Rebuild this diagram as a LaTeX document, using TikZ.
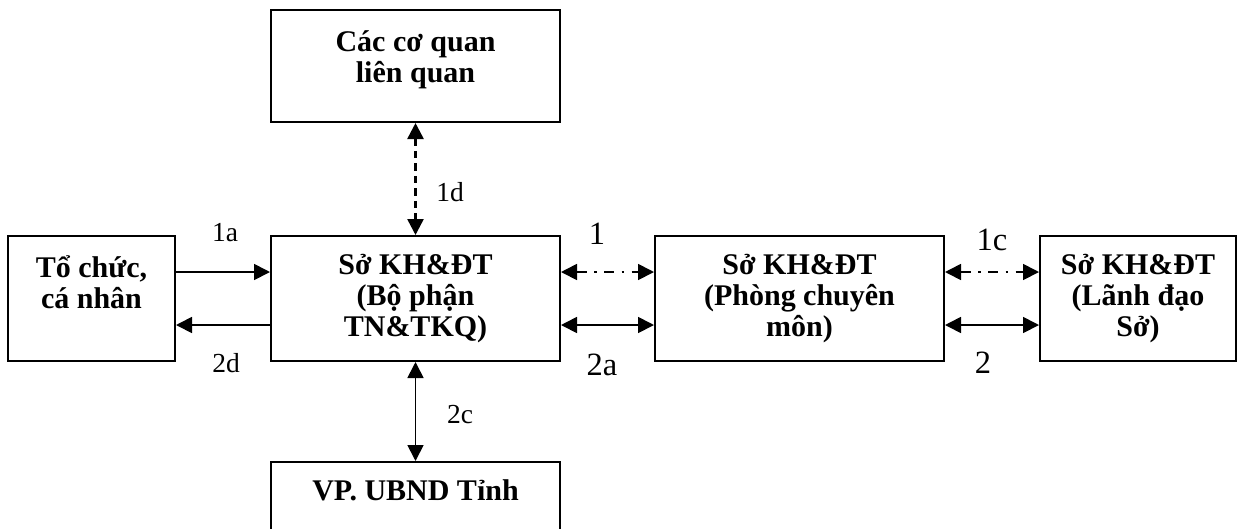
\documentclass[tikz,border=0pt]{standalone}
\usepackage{fontspec}
\setmainfont{Liberation Serif}
\usetikzlibrary{arrows.meta, positioning}
\newcommand{\firstln}{\rule{0pt}{12pt}}

\begin{document}
\begin{tikzpicture}[x=0.4pt, y=-0.4pt,
  box/.style={draw, line width=0.8pt, minimum height=50pt},
  boxtxt/.style={anchor=north, align=center, inner sep=0pt, yshift=-3.6pt,
    font=\fontsize{12}{12.4}\selectfont\bfseries},
  lab/.style={font=\fontsize{11}{13}\selectfont},
  biglab/.style={font=\fontsize{13}{15}\selectfont},
  arr/.style={line width=0.7pt, -{Triangle[length=6.4pt,width=6.4pt]}},
  dbl/.style={line width=0.7pt, {Triangle[length=6.4pt,width=6.4pt]}-{Triangle[length=6.4pt,width=6.4pt]}},
  dashdot/.style={dash pattern=on 4pt off 3pt on 1pt off 3pt}]
\useasboundingbox (0,0) rectangle (1238,528);
\clip (0,0) rectangle (1238,528);
% boxes
\node[box, minimum width=115.6pt, minimum height=44.8pt] (cq) at (415.5,66) {};
\node[box, minimum width=115.6pt] (bp) at (415.5,298.5) {};
\node[box, minimum width=66.8pt] (tc) at (91.5,298.5) {};
\node[box, minimum width=115.6pt] (pcm) at (799.5,298.5) {};
\node[box, minimum width=78.4pt] (ld) at (1138,298.5) {};
\node[box, minimum width=115.6pt] (vp) at (415.5,524.5) {};
% box texts
\node[boxtxt, yshift=-1.2pt] (tcq) at (cq.north) {\firstln Các cơ quan\\liên quan};
\node[boxtxt] (tbp) at (bp.north) {\firstln Sở KH\&ĐT\\(Bộ phận\\TN\&TKQ)};
\node[boxtxt, yshift=-1.2pt] (ttc) at (tc.north) {\firstln Tổ chức,\\cá nhân};
\node[boxtxt] (tpcm) at (pcm.north) {\firstln Sở KH\&ĐT\\(Phòng chuyên\\môn)};
\node[boxtxt] (tld) at (ld.north) {\firstln Sở KH\&ĐT\\(Lãnh đạo\\Sở)};
\node[boxtxt] (tvp) at (vp.north) {\firstln VP. UBND Tỉnh};
% connectors
\coordinate (up) at (0,272);
\coordinate (lo) at (0,325);
\draw[arr] (tc.east |- up) -- (bp.west |- up);
\draw[arr] (bp.west |- lo) -- (tc.east |- lo);
\draw[dbl, dashdot] (bp.east |- up) -- (pcm.west |- up);
\draw[dbl] (bp.east |- lo) -- (pcm.west |- lo);
\draw[dbl, dashdot] (pcm.east |- up) -- (ld.west |- up);
\draw[dbl] (pcm.east |- lo) -- (ld.west |- lo);
\draw[dbl, line width=1pt, dash pattern=on 3pt off 2pt] (cq.south) -- (bp.north);
\draw[dbl] (bp.south) -- (vp.north);
% labels
\node[lab] (l1a) at (225,233) {1a};
\node[lab] (l2d) at (226,363) {2d};
\node[biglab] (l1) at (597,234) {1};
\node[biglab] (l2a) at (602,365) {2a};
\node[biglab] (l1c) at (992,240) {1c};
\node[biglab] (l2) at (983,363) {2};
\node[lab] (l1d) at (450,192) {1d};
\node[lab] (l2c) at (460,415) {2c};
\end{tikzpicture}
\end{document}
